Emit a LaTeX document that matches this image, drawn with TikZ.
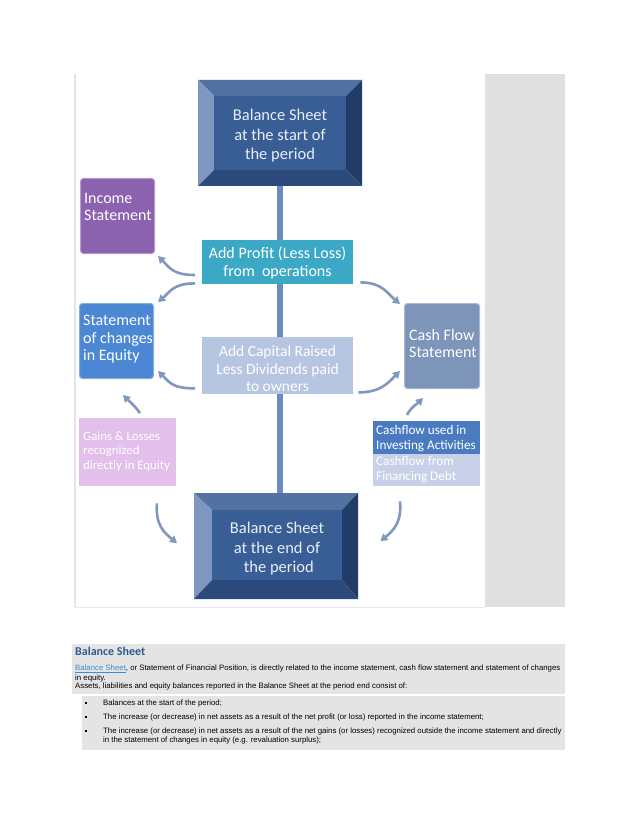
\documentclass[tikz,border=0pt]{standalone}
\usepackage{fontspec}
\setmainfont{Carlito}
\newfontfamily\arialfont{Liberation Sans}
\usetikzlibrary{arrows.meta, positioning}

\definecolor{facecol}{HTML}{395E96}
\definecolor{bevtop}{HTML}{5272A4}
\definecolor{bevleft}{HTML}{7E97C0}
\definecolor{bevright}{HTML}{213C66}
\definecolor{bevbot}{HTML}{2B4A7B}
\definecolor{facetext}{HTML}{E8EEF6}
\definecolor{incomecol}{HTML}{8A62AE}
\definecolor{incomeedge}{HTML}{B39CCC}
\definecolor{profitcol}{HTML}{3BA9C6}
\definecolor{equitycol}{HTML}{4B87D3}
\definecolor{equityedge}{HTML}{86AEE3}
\definecolor{capitalcol}{HTML}{B7C6E0}
\definecolor{cashcol}{HTML}{7D95B9}
\definecolor{cashedge}{HTML}{A9B9D1}
\definecolor{gainscol}{HTML}{E3BFEC}
\definecolor{investcol}{HTML}{4A7BC1}
\definecolor{financecol}{HTML}{C8D1E8}
\definecolor{arrowcol}{HTML}{7F98C0}
\definecolor{spinecol}{HTML}{6A8BBF}
\definecolor{panelgray}{HTML}{E0E0E0}
\definecolor{bandgray}{HTML}{E4E4E4}
\definecolor{headcol}{HTML}{2B5A8C}
\definecolor{linkcol}{HTML}{3B8BD5}

\begin{document}
\begin{tikzpicture}[x=1pt, y=-1pt,
    card/.style={draw=none, inner sep=0pt, anchor=north west},
    boxtext/.style={text=white, inner sep=0pt, align=left, anchor=north west, font=\fontsize{16}{17.5}\selectfont},
    smalltext/.style={text=white, inner sep=0pt, align=left, anchor=north west, font=\fontsize{13.2}{15}\selectfont},
    facelabel/.style={text=facetext, inner sep=0pt, align=center, font=\fontsize{16.5}{19.5}\selectfont},
    spine/.style={draw=spinecol, line width=6pt},
    flow/.style={draw=arrowcol, line width=2.6pt, -{Triangle[length=7pt, width=8pt]}},
    para/.style={inner sep=0pt, anchor=west, font=\arialfont\fontsize{7.8}{8}\selectfont}]
\useasboundingbox (0,0) rectangle (638,826);
\fill[white] (0,0) rectangle (638,826);

% panel
\fill[panelgray] (485,74) rectangle (565,607);
\draw[panelgray!85!black!40, line width=1.5pt] (75,74) -- (75,607);
\draw[panelgray!70, line width=1pt] (75,607) -- (485,607);

% balance sheet at the start
\fill[bevtop] (198,80) -- (362,80) -- (346,96) -- (214,96) -- cycle;
\fill[bevleft] (198,80) -- (214,96) -- (214,170) -- (198,186) -- cycle;
\fill[bevright] (362,80) -- (362,186) -- (346,170) -- (346,96) -- cycle;
\fill[bevbot] (198,186) -- (214,170) -- (346,170) -- (362,186) -- cycle;
\fill[facecol] (214,96) rectangle (346,170);
\node[card, minimum width=164pt, minimum height=106pt] (start) at (198,80) {};
\node[facelabel] (starttext) at (280,136) {Balance Sheet\\at the start of\\the period};

% balance sheet at the end
\fill[bevtop] (194,493) -- (358,493) -- (342,510) -- (212,510) -- cycle;
\fill[bevleft] (194,493) -- (212,510) -- (212,580) -- (194,599) -- cycle;
\fill[bevright] (358,493) -- (358,599) -- (342,580) -- (342,510) -- cycle;
\fill[bevbot] (194,599) -- (212,580) -- (342,580) -- (358,599) -- cycle;
\fill[facecol] (212,510) rectangle (342,580);
\node[card, minimum width=164pt, minimum height=106pt] (closing) at (194,493) {};
\node[facelabel] (closingtext) at (277,549) {Balance Sheet\\at the end of\\\ the period};

% boxes round the spine
\node[card, fill=incomecol, draw=incomeedge, line width=1pt, rounded corners=3pt, minimum width=74pt, minimum height=75pt] (income) at (80,178) {};
\node[boxtext] (incometext) at (84,193) {Income\\Statement};

\node[card, fill=profitcol, minimum width=151pt, minimum height=44pt] (profit) at (202,240) {};
\node[text=white, inner sep=0pt, align=center, font=\fontsize{16}{18}\selectfont] (profittext) at (277.5,262.5) {Add Profit (Less Loss)\\from\ \ operations};

\node[card, fill=equitycol, draw=equityedge, line width=1pt, rounded corners=3pt, minimum width=74pt, minimum height=75pt] (equity) at (79,303) {};
\node[boxtext] (equitytext) at (83,315) {Statement\\of changes\\in Equity};

\node[card, fill=capitalcol, minimum width=151pt, minimum height=57pt] (capital) at (202,337) {};
\node[text=white, inner sep=0pt, align=center, font=\fontsize{15.5}{17.5}\selectfont] (capitaltext) at (277.5,369) {Add Capital Raised\\Less Dividends paid\\to owners};

\node[card, fill=cashcol, draw=cashedge, line width=1pt, rounded corners=3pt, minimum width=75pt, minimum height=85pt] (cashflow) at (404,303) {};
\node[boxtext] (cashtext) at (409,329) {Cash Flow\\Statement};

\node[card, fill=gainscol, minimum width=97pt, minimum height=68pt] (gains) at (79,418) {};
\node[smalltext, font=\fontsize{12.8}{14.5}\selectfont] (gainstext) at (83,431) {Gains \& Losses\\recognized\\directly in Equity};

\node[card, fill=investcol, minimum width=107pt, minimum height=33pt] (invest) at (373,421) {};
\node[smalltext] (investtext) at (376,425) {Cashflow used in\\Investing Activities};
\node[card, fill=financecol, minimum width=107pt, minimum height=32pt] (finance) at (373,454) {};
\node[smalltext] (financetext) at (376,456) {Cashflow from\\Financing Debt};

% spine
\draw[spine] (start.south) -- (start.south |- profit.north);
\draw[spine] (start.south |- profit.south) -- (start.south |- capital.north);
\draw[spine] (start.south |- capital.south) -- (start.south |- closing.north);

% arrows
\draw[flow] ([shift={(-7,35)}]profit.north west) .. controls +(-22,0) and +(12,12) .. ([shift={(3,2)}]income.south east);
\draw[flow] ([shift={(-7,-1)}]profit.south west) .. controls +(-22,0) and +(12,-10) .. ([shift={(4,-1)}]equity.north east);
\draw[flow] ([shift={(-7,-6)}]capital.south west) .. controls +(-22,0) and +(12,12) .. ([shift={(4,-8)}]equity.south east);
\draw[flow] ([shift={(7,-2)}]profit.south east) .. controls +(22,0) and +(-12,-10) .. ([shift={(-4,1)}]cashflow.north west);
\draw[flow] ([shift={(5,-2)}]capital.south east) .. controls +(22,0) and +(-12,12) .. ([shift={(-4,-18)}]cashflow.south west);
\draw[flow] ([shift={(34,-6)}]invest.north west) .. controls +(4,-8) and +(-5,5) .. ([shift={(19,9)}]cashflow.south west);
\draw[flow] ([shift={(61,-5)}]gains.north west) .. controls +(-5,-7) and +(5,5) .. ([shift={(44,16)}]equity.south west);
\draw[flow] ([shift={(78,17)}]gains.south west) .. controls +(-2,22) and +(-12,-10) .. ([shift={(-17,-3)}]closing.west);
\draw[flow] ([shift={(27,15)}]finance.south west) .. controls +(2,22) and +(12,-10) .. ([shift={(22,-5)}]closing.east);

% text below
\fill[bandgray] (72,644) rectangle (565,694);
\fill[bandgray] (82,696) rectangle (565,750);
\node[inner sep=0pt, anchor=west, text=headcol, font=\bfseries\fontsize{12}{14}\selectfont] (heading) at (75,651) {Balance Sheet};
\node[para] (line1) at (75,669) {\textcolor{linkcol}{\underline{Balance Sheet}}, or Statement of Financial Position, is directly related to the income statement, cash flow statement and statement of changes};
\node[para] (line2) at (75,678) {in equity.};
\node[para] (line3) at (75,686) {Assets, liabilities and equity balances reported in the Balance Sheet at the period end consist of:};
\foreach \yy in {703,717,731}
  \fill[black] (84.8,\yy-1.2) rectangle (87.2,\yy+1.2);
\node[para] (item1) at (103,703) {Balances at the start of the period;};
\node[para] (item2) at (103,717) {The increase (or decrease) in net assets as a result of the net profit (or loss) reported in the income statement;};
\node[para] (item3) at (103,731) {The increase (or decrease) in net assets as a result of the net gains (or losses) recognized outside the income statement and directly};
\node[para] (item3b) at (103,740) {in the statement of changes in equity (e.g. revaluation surplus);};

\end{tikzpicture}
\end{document}
